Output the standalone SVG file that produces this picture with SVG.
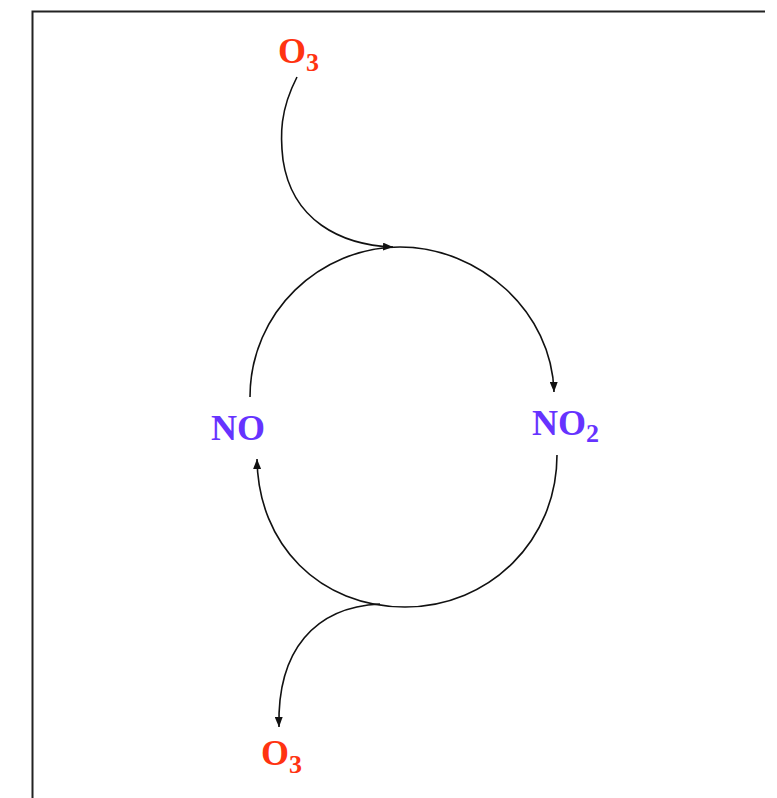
<svg xmlns="http://www.w3.org/2000/svg" width="777" height="798" viewBox="0 0 777 798">
<style>
.o3{font-family:"Liberation Serif","Times New Roman",serif;font-weight:bold;font-size:36px;fill:#ff3311}
.no{font-family:"Liberation Serif","Times New Roman",serif;font-weight:bold;font-size:36px;fill:#6633ff}
.sub{font-size:26px}
.c{fill:none;stroke:#111;stroke-width:1.6}
</style>
<defs>
<marker id="ah" viewBox="0 0 10 8" refX="10" refY="4" markerWidth="10" markerHeight="8" markerUnits="userSpaceOnUse" orient="auto">
<path d="M0,0 L10,4 L0,8 Z" fill="#111"/>
</marker>
</defs>
<rect x="0" y="0" width="777" height="798" fill="#fff"/>
<path d="M32.5 798 V11.5 H765" fill="none" stroke="#222" stroke-width="2"/>
<g id="connectors">
<path class="c" d="M250 397 C250 312 320 247 400 247 C480 247 552 312 554 392" marker-end="url(#ah)"/>
<path class="c" d="M557 455 C557 540 490 607 405 607 C320 607 258 545 257 459" marker-end="url(#ah)"/>
<path class="c" d="M297 77 C280 110 280 135 283 160 C292 220 340 245 393 247" marker-end="url(#ah)"/>
<path class="c" d="M380 604 C315 607 277 650 279 727" marker-end="url(#ah)"/>
</g>
<g id="o3top"><text class="o3" x="278" y="63">O<tspan class="sub" dy="8">3</tspan></text></g>
<g id="no"><text class="no" x="211" y="440">NO</text></g>
<g id="no2"><text class="no" x="532" y="435">NO<tspan class="sub" dy="7">2</tspan></text></g>
<g id="o3bottom"><text class="o3" x="261" y="765">O<tspan class="sub" dy="8">3</tspan></text></g>
</svg>
